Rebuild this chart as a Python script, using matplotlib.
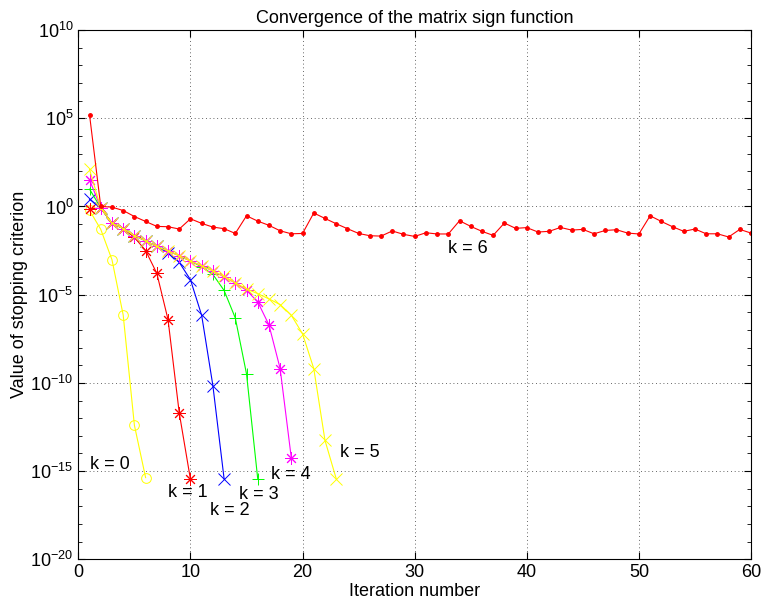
import numpy as np
import matplotlib
matplotlib.use('Agg')
import matplotlib.pyplot as plt

# log10 of the stopping criterion, one list per k (iteration 1, 2, ...)
k0 = [-0.22, -1.30, -3.02, -6.15, -12.4, -15.37]
k1 = [-0.12, -0.10, -0.95, -1.25, -1.75, -2.50, -3.79, -6.41, -11.7, -15.47]
k2 = [0.41, -0.08, -0.95, -1.25, -1.65, -1.95, -2.27, -2.62, -3.17, -4.15,
      -6.17, -10.15, -15.43]
k3 = [0.98, -0.08, -0.95, -1.25, -1.65, -1.95, -2.27, -2.52, -2.79, -3.09,
      -3.42, -3.85, -4.76, -6.32, -9.49, -15.43]
k4 = [1.51, -0.08, -0.95, -1.25, -1.65, -1.95, -2.27, -2.52, -2.79, -3.09,
      -3.37, -3.65, -4.00, -4.34, -4.75, -5.41, -6.71, -9.19, -14.28]
k5 = [2.10, -0.08, -0.95, -1.25, -1.65, -1.95, -2.27, -2.52, -2.79, -3.09,
      -3.37, -3.65, -3.97, -4.32, -4.68, -4.94, -5.24, -5.56, -6.17, -7.22,
      -9.19, -13.26, -15.43]
k6 = [5.19, 0.00, -0.04, -0.23, -0.57, -0.85, -1.13, -1.15, -1.28, -0.70,
      -0.96, -1.17, -1.26, -1.53, -0.53, -0.83, -1.07, -1.38, -1.55, -1.53,
      -0.37, -0.68, -0.98, -1.26, -1.53, -1.66, -1.68, -1.39, -1.58, -1.70,
      -1.49, -1.56, -1.56, -0.81, -1.13, -1.41, -1.64, -0.94, -1.24, -1.20,
      -1.45, -1.41, -1.19, -1.34, -1.30, -1.55, -1.36, -1.32, -1.51, -1.56,
      -0.53, -0.85, -1.15, -1.41, -1.28, -1.55, -1.55, -1.73, -1.30, -1.51]

labels = ['k = 0', 'k = 1', 'k = 2', 'k = 3', 'k = 4', 'k = 5', 'k = 6']
label_x = [1.0, 8.0, 11.7, 14.3, 17.2, 23.3, 33.0]
label_y = [-14.6, -16.2, -17.25, -16.3, -15.2, -13.95, -2.4]

plt.rcParams['font.family'] = ['Liberation Sans', 'DejaVu Sans']
plt.rcParams['font.size'] = 13
plt.rcParams['mathtext.fontset'] = 'custom'
plt.rcParams['mathtext.rm'] = 'Liberation Sans'

fig = plt.figure(figsize=(7.62, 6.09), dpi=100)
ax = fig.add_axes([0.1028, 0.0816, 0.8828, 0.8691])

aster = (8, 2, 0)
styles = [
    (k0, (1, 1, 0), 'o', 7),
    (k1, (1, 0, 0), aster, 9),
    (k2, (0, 0, 1), 'x', 8),
    (k3, (0, 1, 0), '+', 8),
    (k4, (1, 0, 1), aster, 9),
    (k5, (1, 1, 0), 'x', 8),
]
for vals, col, mk, ms in styles:
    it = np.arange(1, len(vals) + 1)
    ax.semilogy(it, 10.0 ** np.array(vals), color=col, lw=0.8,
                marker=mk, ms=ms, mfc='none', mec=col, mew=0.7)

it6 = np.arange(1, len(k6) + 1)
ax.semilogy(it6, 10.0 ** np.array(k6), color=(1, 0, 0), lw=0.8,
            marker='.', ms=5)

for s, x, y in zip(labels, label_x, label_y):
    ax.text(x, 10.0 ** y, s, ha='left', va='center', fontsize=13)

ax.set_xlim(0, 60)
ax.set_ylim(1e-20, 1e10)
ax.set_xticks([0, 10, 20, 30, 40, 50, 60])
ax.set_yticks([10.0 ** e for e in range(-20, 11, 5)])
ax.set_yticks([10.0 ** e for e in range(-20, 11)], minor=True)
ax.yaxis.set_minor_formatter(matplotlib.ticker.NullFormatter())
ax.tick_params(which='both', direction='in', top=True, right=True)
ax.tick_params(which='major', length=5, labelsize=13)
ax.tick_params(which='minor', length=3)
ax.grid(True, which='major', linestyle=(0, (1, 3.5)), color='0.2', lw=0.6)

ax.set_title('Convergence of the matrix sign function', fontsize=13, pad=5)
ax.set_xlabel('Iteration number', fontsize=13, labelpad=1)
ax.set_ylabel('Value of stopping criterion', fontsize=13, labelpad=2)

plt.savefig('out.png', dpi=100)
